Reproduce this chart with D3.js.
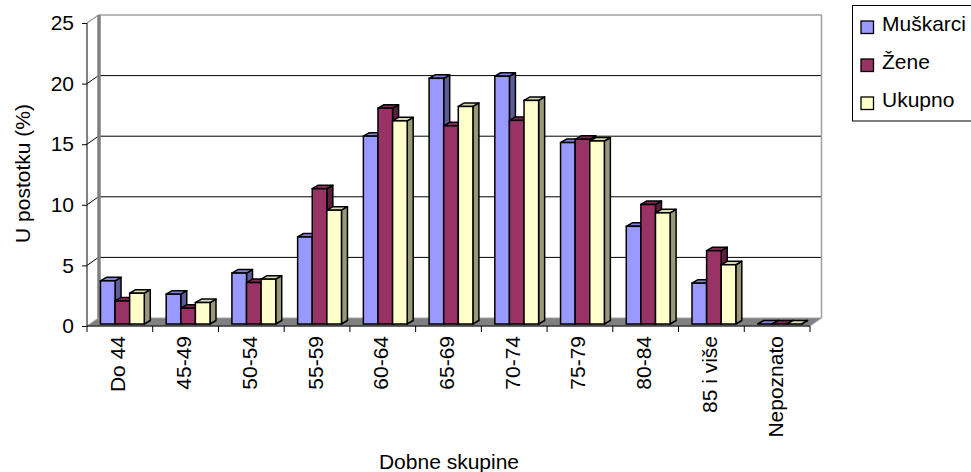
<!DOCTYPE html>
<html>
<head>
<meta charset="utf-8">
<script src="https://cdn.jsdelivr.net/npm/d3@7"></script>
<style>
  body { margin: 0; background: #fff; }
  text { font-family: "Liberation Sans", Arial, sans-serif; fill: #000; }
</style>
</head>
<body>
<div id="chart"></div>
<script>
// age groups and shares (%)
var categories = ["Do 44", "45-49", "50-54", "55-59", "60-64", "65-69", "70-74", "75-79", "80-84", "85 i više", "Nepoznato"];
var seriesNames = ["Muškarci", "Žene", "Ukupno"];
var muskarci = [3.56, 2.46, 4.2, 7.18, 15.5, 20.27, 20.44, 14.97, 8.06, 3.37, 0];
var zene     = [1.9, 1.3, 3.42, 11.16, 17.8, 16.35, 16.8, 15.24, 9.86, 6.05, 0];
var ukupno   = [2.54, 1.77, 3.7, 9.39, 16.76, 17.95, 18.45, 15.1, 9.17, 4.89, 0];
var yTicks = [0, 5, 10, 15, 20, 25];
var colors = ["#9999ff", "#993366", "#ffffcc"];

var width = 971, height = 472;
var wallDx = 11.5, wallDy = -8;     // depth of the floor / side wall
var barFx = 2.5, barFy = -2;        // front plane of the bars
var barDx = 6, barDy = -3.5;        // depth of one bar

var svg = d3.select("#chart").append("svg")
            .attr("width", width)
            .attr("height", height);

var x = d3.scaleBand().domain(categories).range([87, 810]);
var y = d3.scaleLinear().domain([0, 25]).range([326, 23]);
var bw = x.bandwidth();
// gap width 50% -> group takes 2/3 of the band
var inner = d3.scaleBand().domain(seriesNames).range([bw / 6, bw * 5 / 6]);

var values = [muskarci, zene, ukupno];

// back wall
svg.append("rect")
   .attr("x", 87 + wallDx).attr("y", y(25) + wallDy)
   .attr("width", 810 - 87).attr("height", y(0) - y(25))
   .attr("fill", "#fff");

// gridlines on back wall and side wall
yTicks.filter(function(t){ return t > 0 && t < 25; }).forEach(function(t){
  svg.append("line")
     .attr("x1", 87 + wallDx).attr("x2", 810 + wallDx)
     .attr("y1", y(t) + wallDy).attr("y2", y(t) + wallDy)
     .attr("stroke", "#000").attr("stroke-width", 1);
  svg.append("line")
     .attr("x1", 87).attr("x2", 87 + wallDx)
     .attr("y1", y(t)).attr("y2", y(t) + wallDy)
     .attr("stroke", "#000").attr("stroke-width", 1);
});

// wall borders
svg.append("line")
   .attr("x1", 87 + wallDx).attr("x2", 810 + wallDx + 0.5)
   .attr("y1", y(25) + wallDy).attr("y2", y(25) + wallDy)
   .attr("stroke", "#a0a0a0").attr("stroke-width", 1.5);
svg.append("line")
   .attr("x1", 87).attr("x2", 87 + wallDx)
   .attr("y1", y(25)).attr("y2", y(25) + wallDy)
   .attr("stroke", "#a0a0a0").attr("stroke-width", 1.5);
svg.append("line")
   .attr("x1", 87 + wallDx + 0.5).attr("x2", 87 + wallDx + 0.5)
   .attr("y1", y(25) + wallDy).attr("y2", y(0) + wallDy)
   .attr("stroke", "#808080").attr("stroke-width", 3.5);
svg.append("line")
   .attr("x1", 810 + wallDx).attr("x2", 810 + wallDx)
   .attr("y1", y(25) + wallDy).attr("y2", y(0) + wallDy)
   .attr("stroke", "#a0a0a0").attr("stroke-width", 1.5);

// floor
svg.append("path")
   .attr("d", "M87," + y(0) + "L810," + y(0) + "L" + (810 + wallDx) + "," + (y(0) + wallDy) +
              "L" + (87 + wallDx) + "," + (y(0) + wallDy) + "Z")
   .attr("fill", "#808080")
   .attr("stroke", "#a0a0a0").attr("stroke-width", 1);

// bars, drawn left to right so the next bar covers the side of the previous one
function pts(a){ return a.map(function(p){ return p.join(","); }).join(" "); }

var bars = [];
categories.forEach(function(c, i){
  seriesNames.forEach(function(s, j){
    bars.push({cat: c, series: j, value: values[j][i]});
  });
});

var g = svg.append("g").attr("class", "bars");
bars.forEach(function(d){
  var x0 = x(d.cat) + inner(seriesNames[d.series]) + barFx;
  var x1 = x0 + inner.bandwidth();
  var yb = y(0) + barFy;
  var yt = y(d.value) + barFy;
  var base = d3.rgb(colors[d.series]);
  var side = d3.rgb(base.r * 0.6, base.g * 0.6, base.b * 0.6);
  var top = d3.rgb(base.r * 0.85, base.g * 0.85, base.b * 0.85);

  g.append("polygon")
   .attr("points", pts([[x1, yt], [x1 + barDx, yt + barDy], [x1 + barDx, yb + barDy], [x1, yb]]))
   .attr("fill", side).attr("stroke", "#000").attr("stroke-width", 1.5).attr("stroke-linejoin", "round");
  g.append("polygon")
   .attr("points", pts([[x0, yt], [x0 + barDx, yt + barDy], [x1 + barDx, yt + barDy], [x1, yt]]))
   .attr("fill", top).attr("stroke", "#000").attr("stroke-width", 1.5).attr("stroke-linejoin", "round");
  if (d.value > 0) {
    g.append("rect")
     .attr("x", x0).attr("y", yt)
     .attr("width", x1 - x0).attr("height", yb - yt)
     .attr("fill", base).attr("stroke", "#000").attr("stroke-width", 1.5);
  }
});

// y axis
var yAxis = d3.axisLeft(y).tickValues(yTicks).tickSize(5).tickPadding(8);
svg.append("g")
   .attr("transform", "translate(87,0)")
   .call(yAxis)
   .call(function(a){
     a.select(".domain").attr("stroke", "#000").attr("d", "M0," + y(25) + "V" + y(0));
     a.selectAll("text").attr("font-size", 21).attr("font-family", "Liberation Sans, Arial, sans-serif");
   });

// x axis line, ticks at band edges, rotated labels
svg.append("line")
   .attr("x1", 87).attr("x2", 810).attr("y1", y(0)).attr("y2", y(0))
   .attr("stroke", "#000").attr("stroke-width", 1);

var edges = categories.map(function(c){ return x(c); }).concat([810]);
svg.selectAll(".xtick").data(edges).enter().append("line")
   .attr("class", "xtick")
   .attr("x1", function(d){ return d; }).attr("x2", function(d){ return d; })
   .attr("y1", y(0)).attr("y2", y(0) + 6)
   .attr("stroke", "#000");

svg.selectAll(".xlabel").data(categories).enter().append("text")
   .attr("class", "xlabel")
   .attr("transform", function(d){ return "translate(" + (x(d) + bw / 2 + 5.5) + ",336) rotate(-90)"; })
   .attr("text-anchor", "end")
   .attr("font-size", 21)
   .text(function(d){ return d; });

// axis titles
svg.append("text")
   .attr("transform", "translate(30,173.5) rotate(-90)")
   .attr("text-anchor", "middle")
   .attr("font-size", 21)
   .text("U postotku (%)");

svg.append("text")
   .attr("x", 449).attr("y", 469)
   .attr("text-anchor", "middle")
   .attr("font-size", 21)
   .text("Dobne skupine");

// legend
var legend = svg.append("g").attr("transform", "translate(852,5)");
legend.append("rect")
      .attr("x", 0.5).attr("y", 0.5).attr("width", 130).attr("height", 115.5)
      .attr("fill", "#fff").attr("stroke", "#000");
seriesNames.forEach(function(s, i){
  legend.append("rect")
        .attr("x", 9).attr("y", 16 + i * 38)
        .attr("width", 12.5).attr("height", 12.5)
        .attr("fill", colors[i]).attr("stroke", "#000").attr("stroke-width", 1.3);
  legend.append("text")
        .attr("x", 30).attr("y", 26 + i * 38)
        .attr("font-size", 21)
        .text(s);
});
</script>
</body>
</html>
